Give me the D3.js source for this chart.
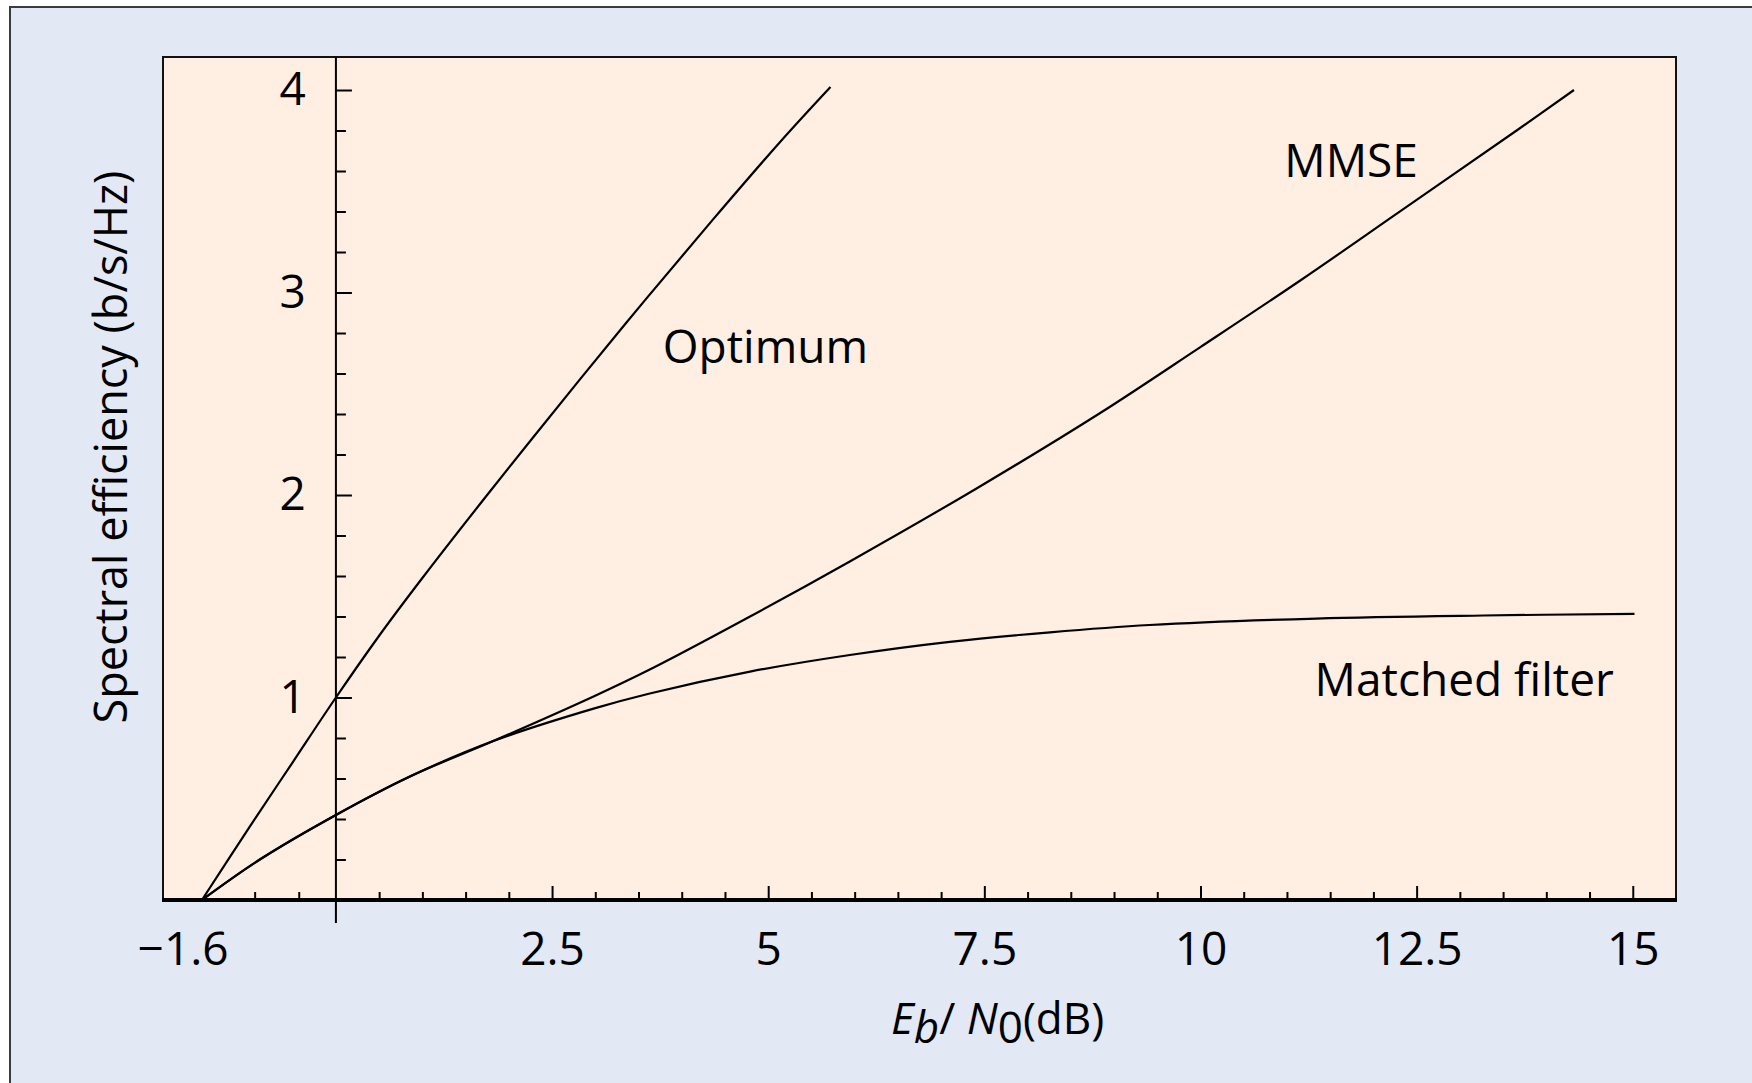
<!DOCTYPE html>
<html>
<head>
<meta charset="utf-8">
<script src="https://cdnjs.cloudflare.com/ajax/libs/d3/7.8.5/d3.min.js"></script>
<style>
  body { margin: 0; background: #ffffff; }
  text { font-family: "Open Sans", "Noto Sans", sans-serif; fill: #000; }
</style>
</head>
<body>
<div id="chart"></div>
<script>
// values (x in dB, y in b/s/Hz)
var optimumX = [-1.55, -1.0, -0.5, 0, 0.5, 1.0, 1.74, 2.82, 3.59, 4.36, 5.13, 5.72];
var optimumY = [0, 0.36, 0.68, 1.0, 1.305, 1.59, 1.995, 2.57, 2.97, 3.36, 3.74, 4.015];

var mmseX = [-1.55, -0.88, 0, 0.856, 1.82, 2.98, 3.63, 4.79, 5.944, 7.4, 8.84, 9.99, 11.15, 12.3, 13.69, 14.32];
var mmseY = [0, 0.2, 0.42, 0.61, 0.785, 1.005, 1.138, 1.4, 1.672, 2.03, 2.405, 2.728, 3.058, 3.398, 3.81, 4.0];

var mfX = [-1.55, -0.88, 0, 0.856, 1.82, 2.98, 3.63, 4.79, 5.944, 7.1, 8.26, 9.41, 11.34, 13.27, 15.02];
var mfY = [0, 0.2, 0.42, 0.61, 0.785, 0.945, 1.02, 1.128, 1.21, 1.275, 1.322, 1.358, 1.39, 1.405, 1.413];

var curveNames = ["Optimum", "MMSE", "Matched filter"];

var xTickValues = [-1.6, 2.5, 5, 7.5, 10, 12.5, 15];
var xTickLabels = ["\u22121.6", "2.5", "5", "7.5", "10", "12.5", "15"];
var xMinorTicks = [-0.94, -0.43, 0.5, 1, 1.5, 2, 3, 3.5, 4, 4.5, 5.5, 6, 6.5, 7, 8, 8.5, 9, 9.5,
    10.5, 11, 11.5, 12, 13, 13.5, 14, 14.5];
var yTickValues = [1, 2, 3, 4];
var yTickLabels = ["1", "2", "3", "4"];
var yMinorTicks = [0.2, 0.4, 0.6, 0.8, 1.2, 1.4, 1.6, 1.8, 2.2, 2.4, 2.6, 2.8, 3.2, 3.4, 3.6, 3.8];

var svgW = 1752;
var svgH = 1083;

var svg = d3.select('#chart').append('svg')
    .attr('width', svgW)
    .attr('height', svgH);

// outer panel, only its left and top edges show
svg.append('rect')
    .attr('x', 10).attr('y', 7)
    .attr('width', 1800).attr('height', 1200)
    .attr('fill', '#e2e8f4')
    .attr('stroke', '#3c3c3c')
    .attr('stroke-width', 2);

var xscale = d3.scaleLinear().domain([-2, 15.5]).range([163, 1676]);
var yscale = d3.scaleLinear().domain([0, 4.163]).range([900, 57]);

// plot frame
svg.append('rect')
    .attr('x', xscale(-2))
    .attr('y', yscale(4.163))
    .attr('width', xscale(15.5) - xscale(-2))
    .attr('height', yscale(0) - yscale(4.163))
    .attr('fill', '#ffefe2')
    .attr('stroke', '#111')
    .attr('stroke-width', 2);

var xMinorAxis = svg.append('g')
    .attr('transform', `translate(0,${yscale(0)})`)
    .call(d3.axisBottom(xscale).tickValues(xMinorTicks).tickSizeInner(-8).tickSizeOuter(0).tickFormat(''));

var xAxis = svg.append('g')
    .attr('transform', `translate(0,${yscale(0)})`)
    .call(d3.axisBottom(xscale)
        .tickValues(xTickValues)
        .tickSizeInner(-14)
        .tickSizeOuter(0)
        .tickPadding(32)
        .tickFormat(function (d, i) { return xTickLabels[i]; }));

// -1.6 only gets a label
xAxis.selectAll('.tick line')
    .filter(function (d) { return d < 0; })
    .remove();
xAxis.selectAll('.tick text')
    .attr('font-size', 46)
    .attr('font-family', '"Open Sans", sans-serif')
    .attr('dx', function (d) { return d < 0 ? -15 : 0; });

var yMinorAxis = svg.append('g')
    .attr('transform', `translate(${xscale(0)},0)`)
    .call(d3.axisLeft(yscale).tickValues(yMinorTicks).tickSizeInner(-10).tickSizeOuter(0).tickFormat(''));

var yAxis = svg.append('g')
    .attr('transform', `translate(${xscale(0)},0)`)
    .call(d3.axisLeft(yscale)
        .tickValues(yTickValues)
        .tickSizeInner(-16)
        .tickSizeOuter(0)
        .tickPadding(30)
        .tickFormat(function (d, i) { return yTickLabels[i]; }));

yAxis.selectAll('.tick text')
    .attr('font-size', 46)
    .attr('font-family', '"Open Sans", sans-serif');

svg.selectAll('.domain').remove();
svg.selectAll('.tick line').attr('stroke', '#000').attr('stroke-width', 2);

// y axis line runs through the frame and a bit below the x axis
svg.append('line')
    .attr('x1', xscale(0)).attr('x2', xscale(0))
    .attr('y1', yscale(4.163)).attr('y2', yscale(0) + 23)
    .attr('stroke', '#000')
    .attr('stroke-width', 2);

// heavy bottom line of the frame
svg.append('line')
    .attr('x1', xscale(-2) - 1).attr('x2', xscale(15.5) + 1)
    .attr('y1', yscale(0)).attr('y2', yscale(0))
    .attr('stroke', '#000')
    .attr('stroke-width', 4);

// curves
var line = d3.line()
    .x(function (d) { return xscale(d[0]); })
    .y(function (d) { return yscale(d[1]); })
    .curve(d3.curveCatmullRom.alpha(0.5));

var series = [
    d3.zip(optimumX, optimumY),
    d3.zip(mmseX, mmseY),
    d3.zip(mfX, mfY)
];

svg.selectAll('path.curve')
    .data(series)
    .enter()
    .append('path')
    .attr('class', 'curve')
    .attr('d', line)
    .attr('fill', 'none')
    .attr('stroke', '#000')
    .attr('stroke-width', 2.2);

// curve labels, placed in data units
var labelAt = [[3.78, 2.652], [10.97, 3.572], [11.32, 1.009]];
svg.selectAll('text.curvelabel')
    .data(curveNames)
    .enter()
    .append('text')
    .attr('class', 'curvelabel')
    .attr('x', function (d, i) { return xscale(labelAt[i][0]); })
    .attr('y', function (d, i) { return yscale(labelAt[i][1]); })
    .attr('font-size', 46)
    .text(function (d) { return d; });

// axis titles
var xTitle = svg.append('text')
    .attr('x', 891)
    .attr('y', 1034)
    .attr('font-size', 44);
xTitle.append('tspan').attr('font-style', 'italic').text('E');
xTitle.append('tspan').attr('font-style', 'italic').attr('dy', 9).text('b');
xTitle.append('tspan').attr('dy', -9).text('/ ');
xTitle.append('tspan').attr('font-style', 'italic').text('N');
xTitle.append('tspan').attr('dy', 9).text('0');
xTitle.append('tspan').attr('dy', -9).text('(dB)');

svg.append('text')
    .attr('transform', 'translate(127,447) rotate(-90)')
    .attr('text-anchor', 'middle')
    .attr('font-size', 45)
    .text('Spectral efficiency (b/s/Hz)');
</script>
</body>
</html>
